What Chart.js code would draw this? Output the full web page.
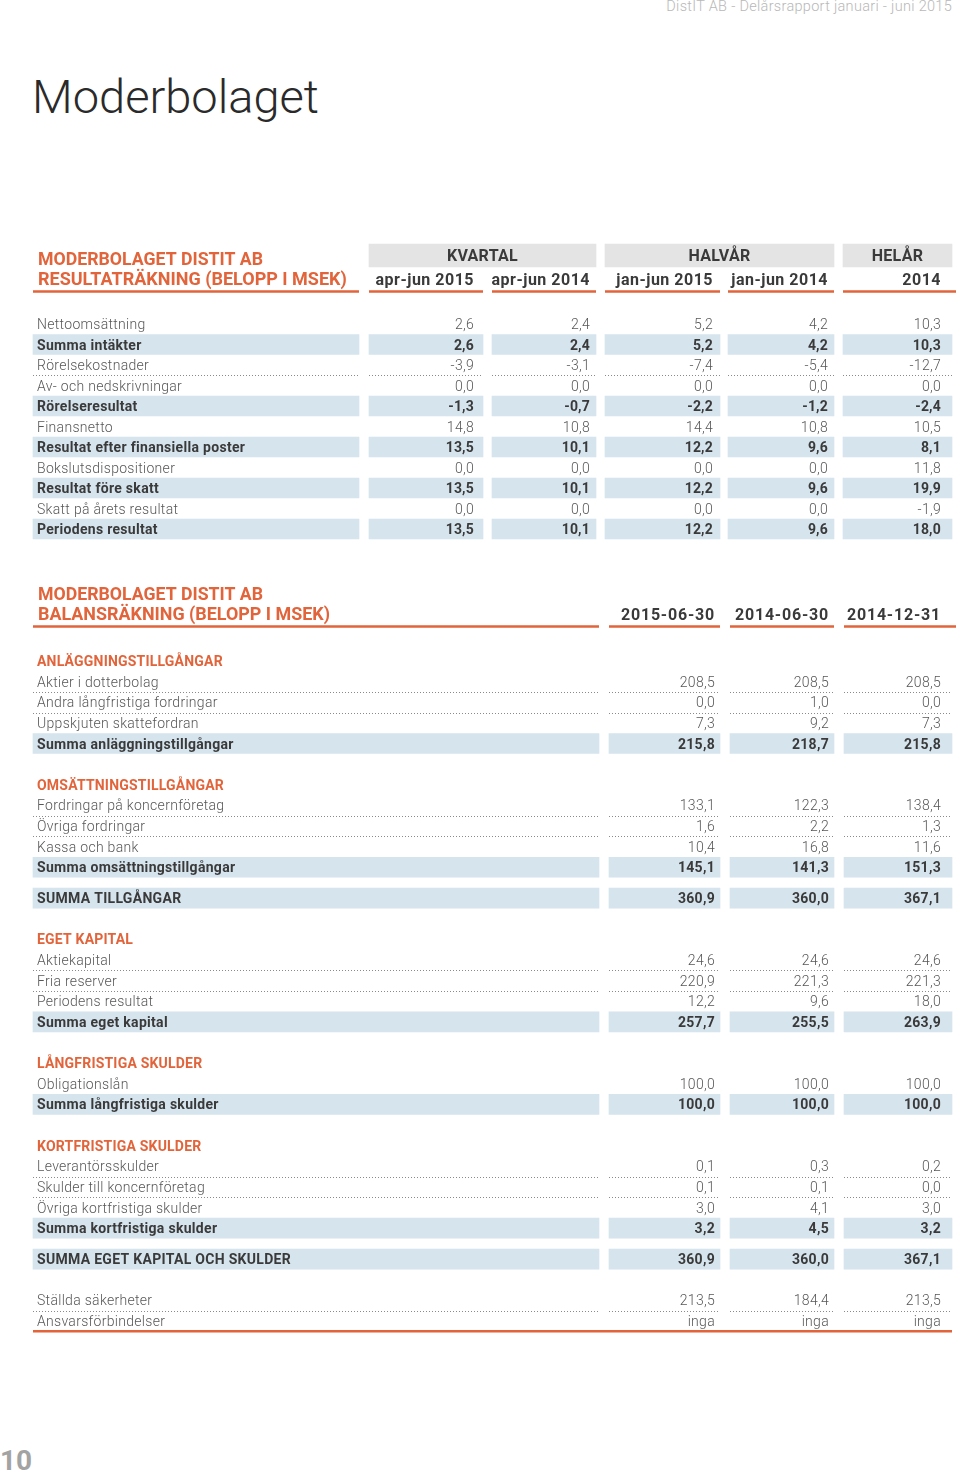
<!DOCTYPE html>
<html><head><meta charset="utf-8">
<script src="https://cdn.jsdelivr.net/npm/chart.js@4.4.1/dist/chart.umd.min.js"></script>
<style>
html,body{margin:0;padding:0;background:#fff;}
body{width:960px;height:1476px;position:relative;overflow:hidden;font-family:Roboto,"DejaVu Sans",sans-serif;}
#runhead{position:absolute;right:8px;top:-2px;font-size:14.5px;font-weight:300;color:#b8b8b8;letter-spacing:0.3px;white-space:nowrap;}
#pagetitle{position:absolute;left:32px;top:69px;font-size:47px;font-weight:300;color:#2a2a2a;white-space:nowrap;}
#pageno{position:absolute;left:0;top:1444px;font-size:28px;font-weight:700;color:#a3a3a3;}
canvas{position:absolute;left:0;}
</style></head><body>
<div id="runhead">DistIT AB - Delårsrapport januari - juni 2015</div>
<div id="pagetitle">Moderbolaget</div>
<canvas id="income" width="960" height="314" style="top:236px"></canvas>
<canvas id="balance" width="960" height="760" style="top:580px"></canvas>
<div id="pageno">10</div>
<script>
// ---------- DATA ----------
const incomeTitle = ['MODERBOLAGET DISTIT AB', 'RESULTATRÄKNING (BELOPP I MSEK)'];
const incomeGroups = ['KVARTAL', 'HALVÅR', 'HELÅR'];
const incomePeriods = ['apr-jun 2015', 'apr-jun 2014', 'jan-jun 2015', 'jan-jun 2014', '2014'];
const incomeLabels = ['Nettoomsättning', 'Summa intäkter', 'Rörelsekostnader', 'Av- och nedskrivningar',
  'Rörelseresultat', 'Finansnetto', 'Resultat efter finansiella poster', 'Bokslutsdispositioner',
  'Resultat före skatt', 'Skatt på årets resultat', 'Periodens resultat'];
const incomeKinds = ['item', 'sum', 'item', 'item', 'sum', 'item', 'sum', 'item', 'sum', 'item', 'sum'];
const aprJun2015 = [2.6, 2.6, -3.9, 0.0, -1.3, 14.8, 13.5, 0.0, 13.5, 0.0, 13.5];
const aprJun2014 = [2.4, 2.4, -3.1, 0.0, -0.7, 10.8, 10.1, 0.0, 10.1, 0.0, 10.1];
const janJun2015 = [5.2, 5.2, -7.4, 0.0, -2.2, 14.4, 12.2, 0.0, 12.2, 0.0, 12.2];
const janJun2014 = [4.2, 4.2, -5.4, 0.0, -1.2, 10.8, 9.6, 0.0, 9.6, 0.0, 9.6];
const fullYear2014 = [10.3, 10.3, -12.7, 0.0, -2.4, 10.5, 8.1, 11.8, 19.9, -1.9, 18.0];

const balanceTitle = ['MODERBOLAGET DISTIT AB', 'BALANSRÄKNING (BELOPP I MSEK)'];
const balanceDates = ['2015-06-30', '2014-06-30', '2014-12-31'];
const balanceLabels = ['ANLÄGGNINGSTILLGÅNGAR', 'Aktier i dotterbolag', 'Andra långfristiga fordringar',
  'Uppskjuten skattefordran', 'Summa anläggningstillgångar', 'OMSÄTTNINGSTILLGÅNGAR',
  'Fordringar på koncernföretag', 'Övriga fordringar', 'Kassa och bank', 'Summa omsättningstillgångar',
  'SUMMA TILLGÅNGAR', 'EGET KAPITAL', 'Aktiekapital', 'Fria reserver', 'Periodens resultat',
  'Summa eget kapital', 'LÅNGFRISTIGA SKULDER', 'Obligationslån', 'Summa långfristiga skulder',
  'KORTFRISTIGA SKULDER', 'Leverantörsskulder', 'Skulder till koncernföretag', 'Övriga kortfristiga skulder',
  'Summa kortfristiga skulder', 'SUMMA EGET KAPITAL OCH SKULDER', 'Ställda säkerheter', 'Ansvarsförbindelser'];
const balanceKinds = ['section', 'item', 'item', 'item', 'sum', 'section', 'item', 'item', 'item', 'sum',
  'total', 'section', 'item', 'item', 'item', 'sum', 'section', 'item', 'sum',
  'section', 'item', 'item', 'item', 'sum', 'total', 'memo', 'memo'];
const bal20150630 = [null, 208.5, 0.0, 7.3, 215.8, null, 133.1, 1.6, 10.4, 145.1, 360.9, null, 24.6, 220.9, 12.2, 257.7,
  null, 100.0, 100.0, null, 0.1, 0.1, 3.0, 3.2, 360.9, 213.5, 'inga'];
const bal20140630 = [null, 208.5, 1.0, 9.2, 218.7, null, 122.3, 2.2, 16.8, 141.3, 360.0, null, 24.6, 221.3, 9.6, 255.5,
  null, 100.0, 100.0, null, 0.3, 0.1, 4.1, 4.5, 360.0, 184.4, 'inga'];
const bal20141231 = [null, 208.5, 0.0, 7.3, 215.8, null, 138.4, 1.3, 11.6, 151.3, 367.1, null, 24.6, 221.3, 18.0, 263.9,
  null, 100.0, 100.0, null, 0.2, 0.0, 3.0, 3.2, 367.1, 213.5, 'inga'];

// ---------- STYLE / LAYOUT ----------
const ORANGE = '#e1643b', BLUE = '#d6e4ed', GREY = '#e4e4e4', TXT = '#575757', DARK = '#3a3a3a', DOT = '#8a8a8a';
const FF = 'Roboto, "DejaVu Sans", sans-serif';
const F_LIGHT = '300 14px ' + FF, F_BOLD = '700 14px ' + FF, F_HEAD = '700 16px ' + FF, F_TITLE = '700 18px ' + FF;
const TEXT_DY = 1.5; // optical centring of text inside a row

function fmt(v) {
  if (v === null || v === undefined) return '';
  if (typeof v === 'string') return v;
  return v.toFixed(1).replace('.', ',');
}
function txt(ctx, s, x, y, font, color, align, maxW, ls) {
  ctx.save();
  ctx.font = font; ctx.fillStyle = color; ctx.textAlign = align || 'left'; ctx.textBaseline = 'middle';
  if ('letterSpacing' in ctx) ctx.letterSpacing = ls || '0px';
  if (maxW) ctx.fillText(s, x, y + TEXT_DY, maxW); else ctx.fillText(s, x, y + TEXT_DY);
  ctx.restore();
}
function hline(ctx, x0, x1, y, color, w, dash) {
  ctx.save();
  ctx.strokeStyle = color; ctx.lineWidth = w; ctx.setLineDash(dash || []);
  ctx.beginPath(); ctx.moveTo(x0, y); ctx.lineTo(x1, y); ctx.stroke();
  ctx.restore();
}

function makeTable(id, cfg) {
  const canvas = document.getElementById(id);
  const yMin = (cfg.canvasTop - cfg.row0) / cfg.pitch;
  const yMax = yMin + canvas.height / cfg.pitch;
  return new Chart(canvas, {
    type: 'bar',
    data: { datasets: cfg.datasets },
    options: {
      indexAxis: 'y', responsive: false, animation: false, events: [],
      layout: { padding: 0 },
      plugins: { legend: { display: false }, tooltip: { enabled: false } },
      scales: {
        x: { type: 'linear', min: 0, max: 960, display: false, offset: false, grace: 0 },
        y: { type: 'linear', min: yMin, max: yMax, reverse: true, display: false, offset: false, grace: 0 }
      }
    },
    plugins: [{ id: id + 'Text', afterDatasetsDraw: (chart) => cfg.draw(chart) }]
  });
}

// ---------- INCOME STATEMENT ----------
(function () {
  const L = { canvasTop: 236, row0: 324, pitch: 20.5 };
  const rowOf = (pagePx) => (pagePx - L.row0) / L.pitch;
  const labelCol = [33, 359];
  const cols = [[369, 483], [492, 596], [605, 720], [728, 834], [843, 952]];
  const valRight = [474, 590, 713, 828, 941];
  const groupSpan = [[0, 1], [2, 3], [4, 4]];
  const series = [aprJun2015, aprJun2014, janJun2015, janJun2014, fullYear2014];

  const headBoxes = groupSpan.map(g => ({ y: rowOf(255.5), x: [cols[g[0]][0], cols[g[1]][1]] }));
  const sumCells = [];
  incomeKinds.forEach((k, i) => {
    if (k !== 'sum') return;
    sumCells.push({ y: i, x: labelCol.slice() });
    cols.forEach(c => sumCells.push({ y: i, x: c.slice() }));
  });

  makeTable('income', Object.assign({}, L, {
    datasets: [
      { data: headBoxes, backgroundColor: GREY, barThickness: 23, grouped: false, borderWidth: 0 },
      { data: sumCells, backgroundColor: BLUE, barThickness: 20, grouped: false, borderWidth: 0 }
    ],
    draw(chart) {
      const ctx = chart.ctx, X = chart.scales.x, Y = chart.scales.y;
      const px = v => X.getPixelForValue(v), py = v => Y.getPixelForValue(v);
      txt(ctx, incomeTitle[0], px(38), py(rowOf(258.5)), F_TITLE, ORANGE, 'left', 225);
      txt(ctx, incomeTitle[1], px(38), py(rowOf(278.5)), F_TITLE, ORANGE, 'left', 312);
      groupSpan.forEach((g, j) => {
        const cx = (cols[g[0]][0] + cols[g[1]][1]) / 2;
        txt(ctx, incomeGroups[j], px(cx), py(rowOf(255.5)), F_HEAD, DARK, 'center', null, '0.3px');
      });
      incomePeriods.forEach((p, j) => txt(ctx, p, px(valRight[j]), py(rowOf(279.5)), F_HEAD, DARK, 'right', null, '0.5px'));
      const uy = py(rowOf(291.5));
      hline(ctx, px(labelCol[0]), px(labelCol[1]), uy, ORANGE, 2.5);
      cols.forEach((c, j) => hline(ctx, px(c[0]), px(j === cols.length - 1 ? 956 : c[1]), uy, ORANGE, 2.5));
      incomeLabels.forEach((lab, i) => {
        const bold = incomeKinds[i] === 'sum';
        const y = py(i);
        txt(ctx, lab, px(37), y, bold ? F_BOLD : F_LIGHT, bold ? DARK : TXT, 'left', null, bold ? '0.3px' : '0.3px');
        series.forEach((s, j) => txt(ctx, fmt(s[i]), px(valRight[j]), y, bold ? F_BOLD : F_LIGHT, bold ? DARK : TXT, 'right', null, bold ? '0.2px' : '0.3px'));
        if (i < incomeLabels.length - 1 && incomeKinds[i] === 'item' && incomeKinds[i + 1] === 'item') {
          const dy = Math.round(py(i + 0.5)) + 0.5;
          hline(ctx, px(labelCol[0]), px(labelCol[1]), dy, DOT, 1, [1, 2]);
          cols.forEach(c => hline(ctx, px(c[0]), px(c[1]), dy, DOT, 1, [1, 2]));
        }
      });
    }
  }));
})();

// ---------- BALANCE SHEET ----------
(function () {
  const L = { canvasTop: 580, row0: 661, pitch: 20.625 };
  const rowOf = (pagePx) => (pagePx - L.row0) / L.pitch;
  const labelCol = [33, 599];
  const cols = [[609, 720], [730, 834], [844, 952]];
  const valRight = [715, 829, 941];
  const series = [bal20150630, bal20140630, bal20141231];

  const pos = [];
  let p = 0;
  balanceKinds.forEach((k, i) => {
    if (i > 0) {
      const prev = balanceKinds[i - 1];
      if (k === 'section' || prev === 'total') p += 2;
      else if (k === 'total') p += 1.5;
      else p += 1;
    }
    pos.push(p);
  });

  const sumCells = [];
  balanceKinds.forEach((k, i) => {
    if (k !== 'sum' && k !== 'total') return;
    sumCells.push({ y: pos[i], x: labelCol.slice() });
    cols.forEach(c => sumCells.push({ y: pos[i], x: c.slice() }));
  });

  makeTable('balance', Object.assign({}, L, {
    datasets: [
      { data: sumCells, backgroundColor: BLUE, barThickness: 20, grouped: false, borderWidth: 0 }
    ],
    draw(chart) {
      const ctx = chart.ctx, X = chart.scales.x, Y = chart.scales.y;
      const px = v => X.getPixelForValue(v), py = v => Y.getPixelForValue(v);
      txt(ctx, balanceTitle[0], px(38), py(rowOf(593.5)), F_TITLE, ORANGE, 'left', 225);
      txt(ctx, balanceTitle[1], px(38), py(rowOf(613.5)), F_TITLE, ORANGE, 'left', 292);
      balanceDates.forEach((d, j) => txt(ctx, d, px(valRight[j]), py(rowOf(614)), F_HEAD, DARK, 'right', null, '0.8px'));
      const uy = py(rowOf(626.5));
      hline(ctx, px(labelCol[0]), px(labelCol[1]), uy, ORANGE, 2.5);
      cols.forEach((c, j) => hline(ctx, px(c[0]), px(j === cols.length - 1 ? 956 : c[1]), uy, ORANGE, 2.5));

      balanceLabels.forEach((lab, i) => {
        const k = balanceKinds[i];
        const y = py(pos[i]);
        if (k === 'section') {
          txt(ctx, lab, px(37), y, F_BOLD, ORANGE, 'left', null, '0.2px');
          return;
        }
        const bold = (k === 'sum' || k === 'total');
        const font = bold ? F_BOLD : F_LIGHT, col = bold ? DARK : TXT, ls = bold ? '0.3px' : '0.3px';
        txt(ctx, lab, px(37), y, font, col, 'left', null, ls);
        series.forEach((s, j) => txt(ctx, fmt(s[i]), px(valRight[j]), y, font, col, 'right', null, ls));
        const nk = balanceKinds[i + 1];
        if (!bold && nk === k) {
          const dy = Math.round(py(pos[i] + 0.5)) + 0.5;
          hline(ctx, px(labelCol[0]), px(labelCol[1]), dy, DOT, 1, [1, 2]);
          cols.forEach(c => hline(ctx, px(c[0]), px(c[1]), dy, DOT, 1, [1, 2]));
        }
      });
      const last = pos[pos.length - 1];
      hline(ctx, px(labelCol[0]), px(cols[cols.length - 1][1]), py(last + 0.5), ORANGE, 2.5);
    }
  }));
})();
</script>
</body></html>
